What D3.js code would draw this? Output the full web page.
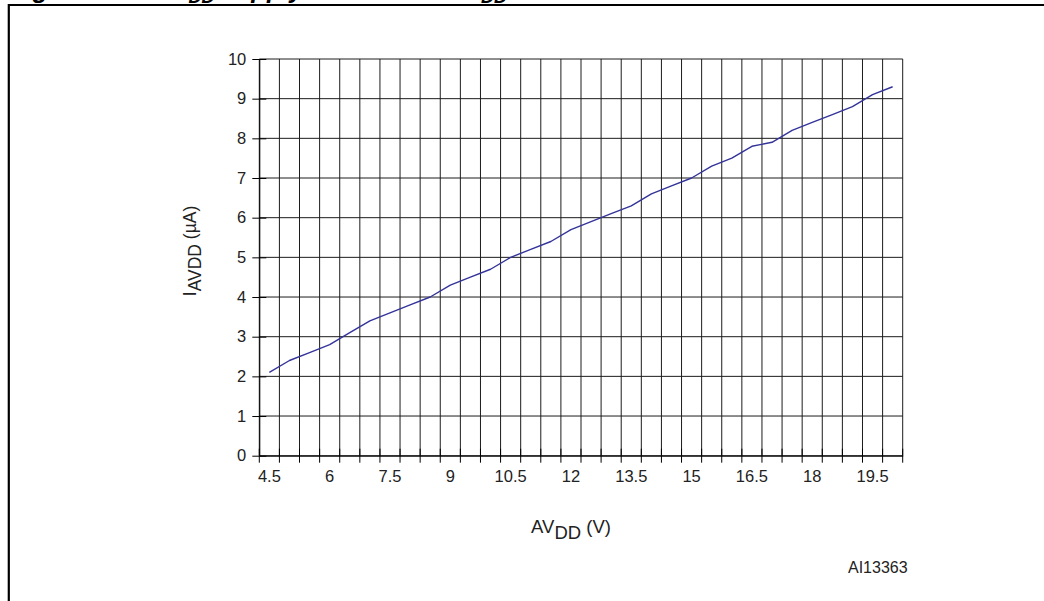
<!DOCTYPE html>
<html>
<head>
<meta charset="utf-8">
<script src="https://cdn.jsdelivr.net/npm/d3@7"></script>
<style>
  html, body { margin: 0; padding: 0; background: #fff; }
  svg { display: block; font-family: "Liberation Sans", Arial, Helvetica, sans-serif; }
</style>
</head>
<body>
<svg id="chart" width="1044" height="601"></svg>
<script>
// Supply voltage categories (V), one point per 0.5 V step
const voltages = [4.5, 5, 5.5, 6, 6.5, 7, 7.5, 8, 8.5, 9, 9.5, 10, 10.5, 11, 11.5, 12,
                  12.5, 13, 13.5, 14, 14.5, 15, 15.5, 16, 16.5, 17, 17.5, 18, 18.5, 19, 19.5, 20];
// Measured supply current (µA)
const currents = [2.1, 2.4, 2.6, 2.8, 3.1, 3.4, 3.6, 3.8, 4.0, 4.3, 4.5, 4.7, 5.0, 5.2, 5.4, 5.7,
                  5.9, 6.1, 6.3, 6.6, 6.8, 7.0, 7.3, 7.5, 7.8, 7.9, 8.2, 8.4, 8.6, 8.8, 9.1, 9.3];
// Labelled voltages on the horizontal axis
const xTickLabels = [4.5, 6, 7.5, 9, 10.5, 12, 13.5, 15, 16.5, 18, 19.5];
// Current ticks
const yTicks = [0, 1, 2, 3, 4, 5, 6, 7, 8, 9, 10];

const svg = d3.select("#chart");
const plot = { left: 259.3, right: 902.7, top: 59, bottom: 455.7 };
const tickFont = 16.5;

const x = d3.scaleBand()
  .domain(voltages)
  .range([plot.left, plot.right])
  .paddingInner(0)
  .paddingOuter(0);
const y = d3.scaleLinear().domain([0, 10]).range([plot.bottom, plot.top]);

// Frame around the figure
svg.append("line").attr("x1", 8).attr("x2", 1044).attr("y1", 5).attr("y2", 5)
  .attr("stroke", "#000").attr("stroke-width", 2.2);
svg.append("line").attr("x1", 8.8).attr("x2", 8.8).attr("y1", 4).attr("y2", 601)
  .attr("stroke", "#000").attr("stroke-width", 2.2);

// Caption (runs off the top edge)
const cap = svg.append("g")
  .attr("font-weight", "bold").attr("font-style", "italic").attr("font-size", 25.5)
  .attr("font-family", "Liberation Sans, Arial, sans-serif");
cap.append("text").attr("x", 10).attr("y", -2.2).text("Figure 9.");
const capT = cap.append("text").attr("x", 155).attr("y", -2.2);
capT.append("tspan").text("AV");
capT.append("tspan").attr("font-size", 18).attr("dy", 5).text("DD");
capT.append("tspan").attr("dy", -5).text(" supply current vs. AV");
capT.append("tspan").attr("font-size", 18).attr("dy", 5).text("DD");

// Grid
const bounds = voltages.map(v => x(v)).concat([plot.right]);
const grid = svg.append("g").attr("stroke", "#1c1c1c").attr("stroke-width", 1);
grid.selectAll("line.v").data(bounds).join("line")
  .attr("class", "v")
  .attr("x1", d => d).attr("x2", d => d)
  .attr("y1", plot.top).attr("y2", plot.bottom);
grid.selectAll("line.h").data(yTicks).join("line")
  .attr("class", "h")
  .attr("x1", plot.left).attr("x2", plot.right)
  .attr("y1", d => y(d)).attr("y2", d => y(d));

// Y axis with ticks crossing the axis line
const yAxis = svg.append("g")
  .attr("transform", `translate(${plot.left},0)`)
  .call(d3.axisLeft(y).tickValues(yTicks).tickSize(7).tickSizeOuter(0).tickPadding(6));
yAxis.select(".domain").attr("stroke", "#000");
yAxis.selectAll(".tick line").attr("x1", 7).attr("stroke", "#000");
yAxis.selectAll(".tick text")
  .attr("font-size", tickFont).attr("fill", "#222")
  .attr("font-family", "Liberation Sans, Arial, sans-serif");

// X axis: labels centred on every third category, ticks on the band boundaries
const xAxis = svg.append("g")
  .attr("transform", `translate(0,${plot.bottom})`)
  .call(d3.axisBottom(x).tickValues(xTickLabels).tickSize(0).tickPadding(15));
xAxis.select(".domain").attr("stroke", "#000");
xAxis.selectAll(".tick text")
  .attr("font-size", tickFont).attr("fill", "#222")
  .attr("font-family", "Liberation Sans, Arial, sans-serif");
svg.append("g").attr("stroke", "#000").attr("stroke-width", 1)
  .selectAll("line").data(bounds).join("line")
  .attr("x1", d => d).attr("x2", d => d)
  .attr("y1", plot.bottom - 7).attr("y2", plot.bottom + 7);

// Current curve
const line = d3.line()
  .x((d, i) => x(voltages[i]) + x.bandwidth() / 2)
  .y(d => y(d));
svg.append("path").datum(currents)
  .attr("fill", "none")
  .attr("stroke", "#33339a")
  .attr("stroke-width", 1.4)
  .attr("stroke-linejoin", "round")
  .attr("d", line);

// Axis titles
const yTitle = svg.append("text")
  .attr("transform", `translate(196,251) rotate(-90)`)
  .attr("text-anchor", "middle").attr("font-size", 17.5).attr("fill", "#222");
yTitle.append("tspan").text("I");
yTitle.append("tspan").attr("dy", 5).text("AVDD");
yTitle.append("tspan").attr("dy", -5).text(" (µA)");

const xTitle = svg.append("text")
  .attr("x", 571).attr("y", 533)
  .attr("text-anchor", "middle").attr("font-size", 18.5).attr("fill", "#222");
xTitle.append("tspan").text("AV");
xTitle.append("tspan").attr("dy", 6).text("DD");
xTitle.append("tspan").attr("dy", -6).text(" (V)");

// Figure reference code
svg.append("text").attr("x", 848).attr("y", 573)
  .attr("font-size", 16).attr("fill", "#222")
  .text("AI13363");
</script>
</body>
</html>
